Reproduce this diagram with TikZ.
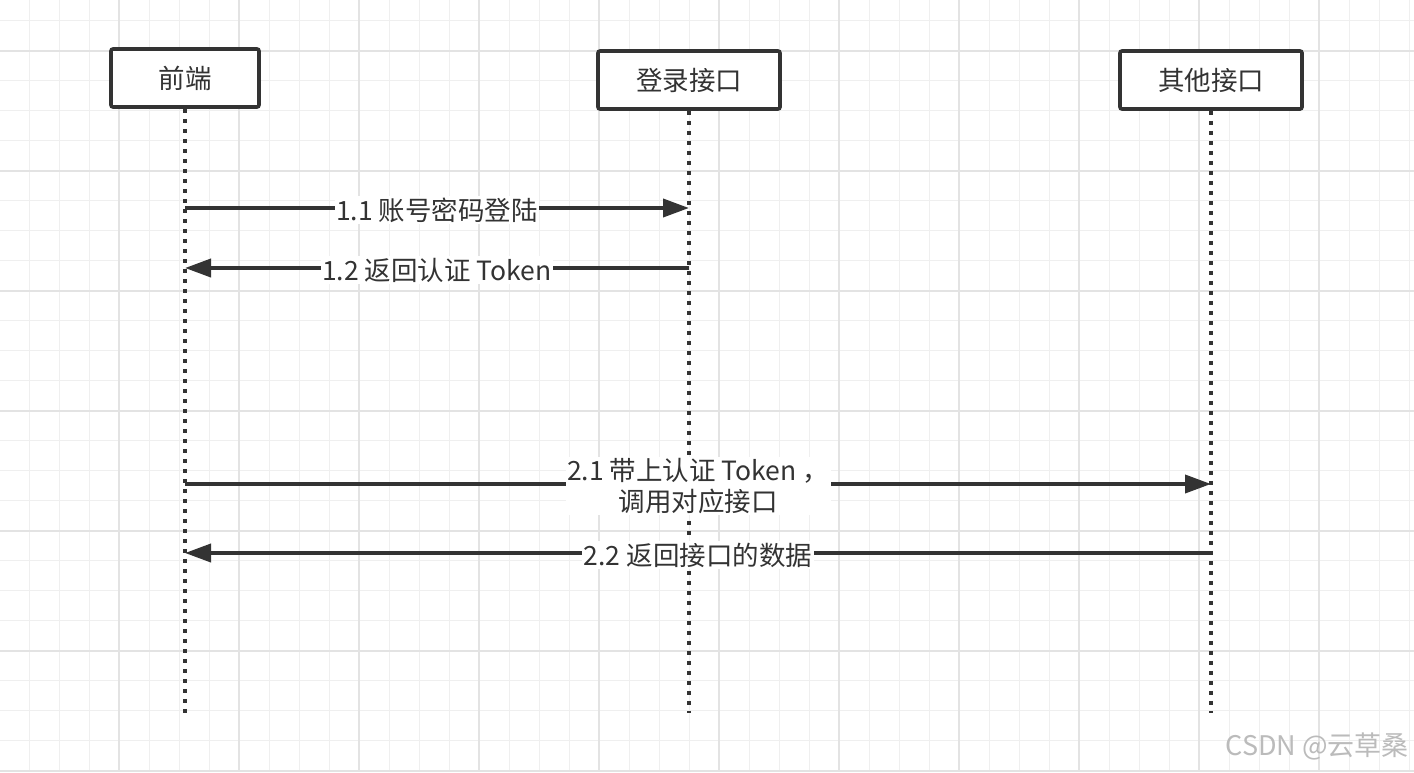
\documentclass[tikz,border=0pt]{standalone}
\usepackage{fontspec}
\setmainfont{Noto Sans CJK SC}
\usetikzlibrary{arrows.meta}
\definecolor{ink}{HTML}{333333}
\definecolor{gridthin}{HTML}{EFEFEF}
\definecolor{gridthick}{HTML}{E3E3E3}
\definecolor{markgray}{HTML}{BBBBBB}

\begin{document}
\begin{tikzpicture}[x=1pt,y=-1pt,
  actor/.style={draw=ink, line width=3.6pt, rounded corners=2pt, fill=white,
    minimum height=58pt, inner sep=0pt, text=ink, font=\fontsize{26.5}{30}\selectfont},
  lifeline/.style={draw=ink, line width=3.5pt, dash pattern=on 4pt off 6pt},
  msg/.style={draw=ink, line width=3.8pt, -{Triangle[length=26pt,width=18pt]}},
  msglabel/.style={fill=white, text=ink, inner sep=1.5pt, align=center,
    yshift=-2pt, font=\fontsize{26.5}{31}\selectfont}]

% canvas and background grid
\useasboundingbox (0,0) rectangle (1414,772);
\fill[white] (0,0) rectangle (1414,772);
\foreach \x in {-0.7,29.3,...,1420} \draw[gridthin, line width=1.5pt] (\x,0) -- (\x,772);
\foreach \y in {20.7,50.7,...,780} \draw[gridthin, line width=1.5pt] (0,\y) -- (1414,\y);
\foreach \x in {-0.7,119.3,...,1420} \draw[gridthick, line width=1.8pt] (\x,0) -- (\x,772);
\foreach \y in {50.7,170.7,...,780} \draw[gridthick, line width=1.8pt] (0,\y) -- (1414,\y);

% participants
\node[actor, minimum width=148pt] (fe)    at (185,78) {前端};
\node[actor, minimum width=182pt] (login) at (689,80) {登录接口};
\node[actor, minimum width=182pt] (other) at (1211,80) {其他接口};

% lifeline ends
\coordinate (feEnd)    at (185,713);
\coordinate (loginEnd) at (689,713);
\coordinate (otherEnd) at (1211,713);

\draw[lifeline] (fe.south) -- (feEnd);
\draw[lifeline] (login.south) -- (loginEnd);
\draw[lifeline] (other.south) -- (otherEnd);

% messages
\draw[msg] (fe |- 0,208) -- (login |- 0,208)
  node[msglabel, midway] {1.1 账号密码登陆};
\draw[msg] (login |- 0,268) -- (fe |- 0,268)
  node[msglabel, midway] {1.2 返回认证 Token};
\draw[msg] (fe |- 0,484) -- (other |- 0,484)
  node[msglabel, midway] {2.1 带上认证 Token ，\\调用对应接口};
\draw[msg] (other |- 0,553) -- (fe |- 0,553)
  node[msglabel, midway] {2.2 返回接口的数据};

% watermark
\node[anchor=east, text=markgray, inner sep=0pt, font=\fontsize{27}{30}\selectfont]
  (wm) at (1409,746) {CSDN @云草桑};
\end{tikzpicture}
\end{document}
